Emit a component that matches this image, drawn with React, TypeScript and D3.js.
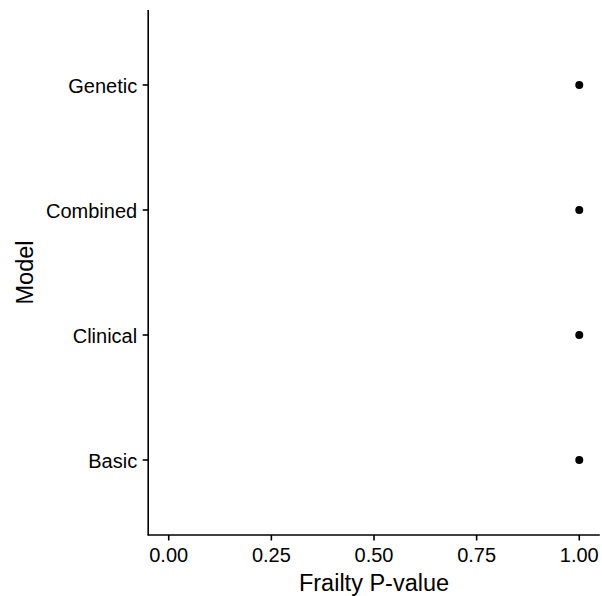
import React from "react";
import * as d3 from "d3";

const models = ["Basic", "Clinical", "Combined", "Genetic"];
const pValues = [1.0, 1.0, 1.0, 1.0];
const xTicks = [0, 0.25, 0.5, 0.75, 1.0];

const W = 602;
const H = 596;
const left = 148.2;
const right = 599.8;
const top = 10;
const bottom = 535;
const font = "'Liberation Sans', Arial, Helvetica, sans-serif";

export default function App() {
  const x = d3.scaleLinear().domain([-0.05, 1.05]).range([left, right]);
  const y = d3.scaleLinear().domain([0.4, 4.6]).range([bottom, top]);
  return (
    <svg width={W} height={H} style={{ position: "absolute", left: 0, top: 0, background: "#fff" }}>
      <rect width={W} height={H} fill="#fff" />
      {models.map((m, i) => (
        <circle key={m} cx={x(pValues[i])} cy={y(i + 1)} r={4} fill="#000" />
      ))}
      <line x1={left} x2={left} y1={top} y2={bottom + 0.5} stroke="#000" strokeWidth={1.6} />
      <line x1={left - 0.5} x2={right} y1={bottom} y2={bottom} stroke="#000" strokeWidth={1.6} />
      {models.map((m, i) => (
        <g key={m}>
          <line x1={left - 5.5} x2={left} y1={y(i + 1)} y2={y(i + 1)} stroke="#000" strokeWidth={1.6} />
          <text x={left - 11} y={y(i + 1) + 8} textAnchor="end" fontFamily={font} fontSize={20} fill="#000">
            {m}
          </text>
        </g>
      ))}
      {xTicks.map((t) => (
        <g key={t}>
          <line x1={x(t)} x2={x(t)} y1={bottom} y2={bottom + 5.5} stroke="#000" strokeWidth={1.6} />
          <text x={x(t)} y={562} textAnchor="middle" fontFamily={font} fontSize={20} fill="#000">
            {t.toFixed(2)}
          </text>
        </g>
      ))}
      <text x={(left + right) / 2} y={591} textAnchor="middle" fontFamily={font} fontSize={23.5} fill="#000">
        Frailty P-value
      </text>
      <text
        transform={`translate(33, ${(top + bottom) / 2}) rotate(-90)`}
        textAnchor="middle"
        fontFamily={font}
        fontSize={23.5}
        fill="#000"
      >
        Model
      </text>
    </svg>
  );
}
